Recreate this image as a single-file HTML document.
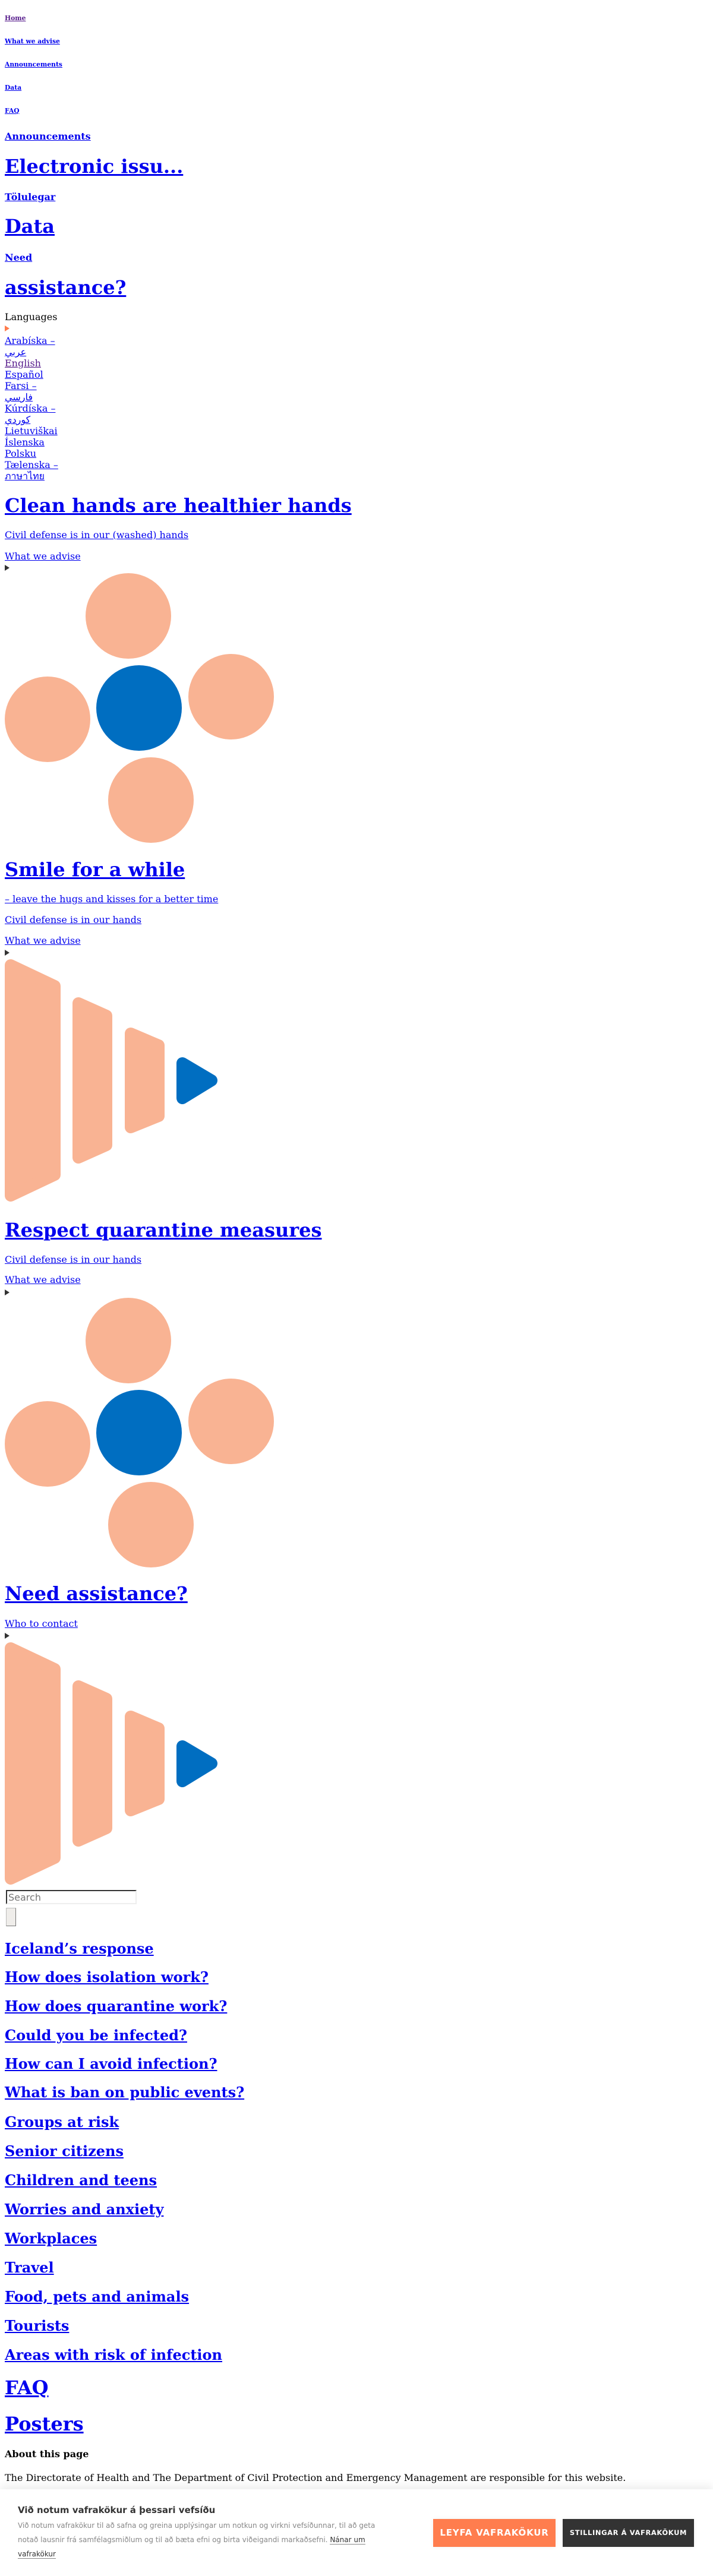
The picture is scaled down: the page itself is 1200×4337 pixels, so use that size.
<!DOCTYPE html>
<html><head><meta charset="utf-8"><title>Covid</title>
<style>
html,body{margin:0;padding:0;background:#fff;}
body{width:1200px;height:4337px;position:relative;overflow:hidden;font-family:"DejaVu Serif","Liberation Serif",serif;}
.t{position:absolute;left:8px;white-space:nowrap;line-height:1;margin:0;}
a{color:#0000ee;text-decoration:underline;}
a.v{color:#551a8b;}
.n{font-size:10.72px;font-weight:bold;}
.m{font-size:16px;font-weight:bold;}
.b{font-size:32px;font-weight:bold;}
.r{font-size:16px;}
.h{font-size:24px;font-weight:bold;}
.tri{position:absolute;left:8px;width:0;height:0;border-top:5px solid transparent;border-bottom:5px solid transparent;border-left:8px solid #333;}
#langs{position:absolute;left:8px;top:564px;font-size:16px;line-height:19px;width:100px;}
#langs a{display:block;}
svg{position:absolute;left:0;}
#banner{position:absolute;left:0;top:4191px;width:1200px;height:146px;background:#fff;box-shadow:0 -6px 14px rgba(0,0,0,0.07);font-family:"DejaVu Sans","Liberation Sans",sans-serif;}
</style></head>
<body>
<h6 class="t n" style="top:26px"><a class="v" href="#">Home</a></h6>
<h6 class="t n" style="top:65px"><a href="#">What we advise</a></h6>
<h6 class="t n" style="top:104px"><a href="#">Announcements</a></h6>
<h6 class="t n" style="top:143px"><a href="#">Data</a></h6>
<h6 class="t n" style="top:182px"><a href="#">FAQ</a></h6>

<div class="t m" style="top:222px"><a href="#">Announcements</a></div>
<div class="t b" style="top:264px"><a href="#">Electronic issu...</a></div>
<div class="t m" style="top:324px"><a href="#">Tölulegar</a></div>
<div class="t b" style="top:365px"><a href="#">Data</a></div>
<div class="t m" style="top:426px"><a href="#">Need</a></div>
<div class="t b" style="top:468px"><a href="#">assistance?</a></div>

<div class="t r" style="top:526px">Languages</div>
<div class="tri" style="top:548px;border-left-color:#ff7c4c"></div>
<div id="langs">
<a href="#">Arabíska – عربي</a>
<a class="v" href="#">English</a>
<a href="#">Español</a>
<a href="#">Farsi – فارسي</a>
<a href="#">Kúrdíska – كوردي</a>
<a href="#">Lietuviškai</a>
<a href="#">Íslenska</a>
<a href="#">Polsku</a>
<a href="#">Tælenska – ภาษาไทย</a>
</div>

<div class="t b" style="top:835px"><a href="#">Clean hands are healthier hands</a></div>
<div class="t r" style="top:893px"><a href="#">Civil defense is in our (washed) hands</a></div>
<div class="t r" style="top:929px"><a href="#">What we advise</a></div>
<div class="tri" style="top:951px"></div>
<svg width="480" height="480" style="top:956px">
<circle cx="216" cy="81" r="72" fill="#f9b393"/><circle cx="389" cy="217" r="72" fill="#f9b393"/>
<circle cx="80" cy="255" r="72" fill="#f9b393"/><circle cx="254" cy="391" r="72" fill="#f9b393"/>
<circle cx="234" cy="236" r="72" fill="#006ec1"/></svg>

<div class="t b" style="top:1448px"><a href="#">Smile for a while</a></div>
<div class="t r" style="top:1506px"><a href="#">– leave the hugs and kisses for a better time</a></div>
<div class="t r" style="top:1541px"><a href="#">Civil defense is in our hands</a></div>
<div class="t r" style="top:1576px"><a href="#">What we advise</a></div>
<div class="tri" style="top:1599px"></div>
<svg width="400" height="420" style="top:1613px">
<g stroke-linejoin="round" stroke-width="20">
<polygon points="18,12 92,47 92,365 18,400" fill="#f9b393" stroke="#f9b393"/>
<polygon points="132,76 179,97 179,315 132,336" fill="#f9b393" stroke="#f9b393"/>
<polygon points="220,127 267,147 267,266 220,285" fill="#f9b393" stroke="#f9b393"/>
<polygon points="307,177 356,206 307,236" fill="#006ec1" stroke="#006ec1"/></g></svg>

<div class="t b" style="top:2055px"><a href="#">Respect quarantine measures</a></div>
<div class="t r" style="top:2113px"><a href="#">Civil defense is in our hands</a></div>
<div class="t r" style="top:2147px"><a href="#">What we advise</a></div>
<div class="tri" style="top:2171px"></div>
<svg width="480" height="480" style="top:2176px">
<circle cx="216" cy="81" r="72" fill="#f9b393"/><circle cx="389" cy="217" r="72" fill="#f9b393"/>
<circle cx="80" cy="255" r="72" fill="#f9b393"/><circle cx="254" cy="391" r="72" fill="#f9b393"/>
<circle cx="234" cy="236" r="72" fill="#006ec1"/></svg>

<div class="t b" style="top:2667px"><a href="#">Need assistance?</a></div>
<div class="t r" style="top:2726px"><a href="#">Who to contact</a></div>
<div class="tri" style="top:2749px"></div>
<svg width="400" height="420" style="top:2763px">
<g stroke-linejoin="round" stroke-width="20">
<polygon points="18,12 92,47 92,365 18,400" fill="#f9b393" stroke="#f9b393"/>
<polygon points="132,76 179,97 179,315 132,336" fill="#f9b393" stroke="#f9b393"/>
<polygon points="220,127 267,147 267,266 220,285" fill="#f9b393" stroke="#f9b393"/>
<polygon points="307,177 356,206 307,236" fill="#006ec1" stroke="#006ec1"/></g></svg>

<input type="text" placeholder="Search" style="position:absolute;left:10px;top:3182px;width:212px;height:20px;padding:0 2px;border:2px inset #eee;border-top-color:#888;border-left-color:#888;font-family:'DejaVu Sans',sans-serif;font-size:16px;box-sizing:content-box;">
<button style="position:absolute;left:10px;top:3212px;width:17px;height:31px;padding:0;background:#efedea;border:1px solid #bbb;border-right-color:#777;border-bottom-color:#777;"></button>

<div class="t h" style="top:3269px"><a href="#">Iceland’s response</a></div>
<div class="t h" style="top:3317px"><a href="#">How does isolation work?</a></div>
<div class="t h" style="top:3366px"><a href="#">How does quarantine work?</a></div>
<div class="t h" style="top:3415px"><a href="#">Could you be infected?</a></div>
<div class="t h" style="top:3463px"><a href="#">How can I avoid infection?</a></div>
<div class="t h" style="top:3511px"><a href="#">What is ban on public events?</a></div>
<div class="t h" style="top:3561px"><a href="#">Groups at risk</a></div>
<div class="t h" style="top:3610px"><a href="#">Senior citizens</a></div>
<div class="t h" style="top:3659px"><a href="#">Children and teens</a></div>
<div class="t h" style="top:3708px"><a href="#">Worries and anxiety</a></div>
<div class="t h" style="top:3757px"><a href="#">Workplaces</a></div>
<div class="t h" style="top:3806px"><a href="#">Travel</a></div>
<div class="t h" style="top:3855px"><a href="#">Food, pets and animals</a></div>
<div class="t h" style="top:3904px"><a href="#">Tourists</a></div>
<div class="t h" style="top:3953px"><a href="#">Areas with risk of infection</a></div>
<div class="t b" style="top:4004px"><a href="#">FAQ</a></div>
<div class="t b" style="top:4065px"><a href="#">Posters</a></div>
<div class="t m" style="top:4124px">About this page</div>
<div class="t r" style="top:4164px">The Directorate of Health and The Department of Civil Protection and Emergency Management are responsible for this website.</div>

<div id="banner">
<div style="position:absolute;left:30px;top:28px;font-size:15px;font-weight:bold;color:#333;white-space:nowrap;line-height:1;">Við notum vafrakökur á þessari vefsíðu</div>
<div style="position:absolute;left:30px;top:49px;width:680px;font-size:12px;line-height:24px;color:#888;">Við notum vafrakökur til að safna og greina upplýsingar um notkun og virkni vefsíðunnar, til að geta<br>notað lausnir frá samfélagsmiðlum og til að bæta efni og birta viðeigandi markaðsefni. <a href="#" style="color:#333;text-decoration:none;border-bottom:1px solid #888;">Nánar um<br>vafrakökur</a></div>
<div style="position:absolute;left:729px;top:50px;width:206px;height:47px;background:#ff7d4e;color:#fff;font-size:15px;font-weight:bold;letter-spacing:0.8px;text-align:center;line-height:47px;box-shadow:0 0 8px rgba(0,0,0,0.06);">LEYFA VAFRAKÖKUR</div>
<div style="position:absolute;left:947px;top:50px;width:221px;height:47px;background:#333;color:#fff;font-size:11.5px;font-weight:bold;letter-spacing:0.6px;text-align:center;line-height:47px;box-shadow:0 0 8px rgba(0,0,0,0.06);">STILLINGAR Á VAFRAKÖKUM</div>
</div>
</body></html>
